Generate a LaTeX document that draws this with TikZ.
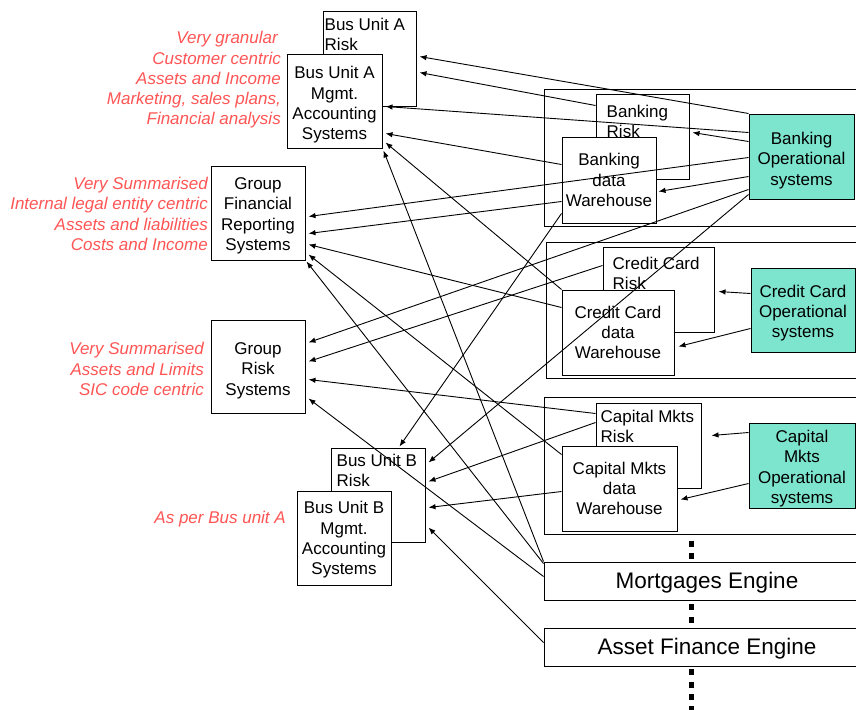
\documentclass[tikz,border=0pt]{standalone}
\usepackage{fontspec}
\setmainfont{Liberation Sans}
\usetikzlibrary{arrows.meta}
\definecolor{notered}{RGB}{255,85,85}
\definecolor{opteal}{RGB}{125,228,205}
% a taller first line pushes a centred text block down inside its box
\newcommand{\tallfirst}[1]{\rule{0pt}{#1}}
\begin{document}
\begin{tikzpicture}[x=1pt,y=-1pt,
  every node/.style={inner sep=0pt, font=\fontsize{17}{20}\selectfont},
  groupbox/.style={draw, line width=1pt},
  sysbox/.style={draw, line width=1pt, fill=white, align=center,
    font=\fontsize{17}{20.3}\selectfont},
  opbox/.style={sysbox, fill=opteal},
  risktext/.style={anchor=north west, align=left},
  enginebox/.style={sysbox, font=\fontsize{22.5}{26}\selectfont},
  note/.style={anchor=east, align=right, text=notered,
    font=\itshape\fontsize{17}{20.3}\selectfont},
  conn/.style={line width=0.9pt, -{Latex[length=7pt,width=5.5pt]}},
  dots/.style={line width=5pt, dash pattern=on 6pt off 6.3pt}]
\useasboundingbox (0,0) rectangle (856,709);
\clip (0,0) rectangle (856,709);
\fill[white] (0,0) rectangle (856,709);

% business line groups on the right
\node[groupbox, minimum width=326pt, minimum height=137pt] (bankgrp) at (707,157.5) {};
\node[groupbox, minimum width=324pt, minimum height=136pt] (ccgrp) at (708,310) {};
\node[groupbox, minimum width=326pt, minimum height=137pt] (capgrp) at (707,465.5) {};

% banking
\node[sysbox, minimum width=93pt, minimum height=85pt] (bankrisk) at (642.5,136.5) {};
\node[risktext] (bankrisk-t) at ([xshift=11pt,yshift=-11pt]bankrisk.north west) {Banking\\Risk};
\node[sysbox, minimum width=94pt, minimum height=86pt] (bankdw) at (609,180) {Banking\\data\\Warehouse};
\node[opbox, minimum width=105pt, minimum height=85pt] (bankop) at (801.5,156.5) {\tallfirst{20.3pt}Banking\\Operational\\systems};

% credit card
\node[sysbox, minimum width=111pt, minimum height=85pt] (ccrisk) at (658.5,289.5) {};
\node[risktext] (ccrisk-t) at ([xshift=10pt,yshift=-10pt]ccrisk.north west) {Credit Card\\Risk};
\node[sysbox, minimum width=112pt, minimum height=85pt] (ccdw) at (618,332.5) {Credit Card\\data\\Warehouse};
\node[opbox, minimum width=104pt, minimum height=84pt] (ccop) at (803,310) {\tallfirst{18.3pt}Credit Card\\Operational\\systems};

% capital markets
\node[sysbox, minimum width=105pt, minimum height=85pt] (caprisk) at (648.5,445.5) {};
\node[risktext] (caprisk-t) at ([xshift=5pt,yshift=-7pt]caprisk.north west) {Capital Mkts\\Risk};
\node[sysbox, minimum width=115pt, minimum height=85pt] (capdw) at (619.5,488.5) {Capital Mkts\\data\\Warehouse};
\node[opbox, minimum width=106pt, minimum height=85pt] (capop) at (802,465.5) {\tallfirst{18.3pt}Capital\\Mkts\\Operational\\systems};

% engines
\node[enginebox, minimum width=326pt, minimum height=38pt] (mort) at (707,581) {\tallfirst{19pt}Mortgages Engine};
\node[enginebox, minimum width=326pt, minimum height=38pt] (asset) at (707,647) {\tallfirst{19pt}Asset Finance Engine};

% consuming systems on the left
\node[sysbox, minimum width=93pt, minimum height=94pt] (busarisk) at (369.5,59) {};
\node[risktext] (busarisk-t) at ([xshift=2pt,yshift=-6pt]busarisk.north west) {Bus Unit A\\Risk};
\node[sysbox, minimum width=95pt, minimum height=93pt] (busamgmt) at (334.5,101.5) {\tallfirst{19.3pt}Bus Unit A\\Mgmt.\\Accounting\\Systems};
\node[sysbox, minimum width=94pt, minimum height=94pt] (gfr) at (258,213) {\tallfirst{17.3pt}Group\\Financial\\Reporting\\Systems};
\node[sysbox, minimum width=94pt, minimum height=93pt] (grisk) at (258,366.5) {\tallfirst{20.3pt}Group\\Risk\\Systems};
\node[sysbox, minimum width=94pt, minimum height=94pt] (busbrisk) at (378,495) {};
\node[risktext] (busbrisk-t) at ([xshift=6pt,yshift=-6pt]busbrisk.north west) {Bus Unit B\\Risk};
\node[sysbox, minimum width=94pt, minimum height=94pt] (busbmgmt) at (344,538) {\tallfirst{16.3pt}Bus Unit B\\Mgmt.\\Accounting\\Systems};

% descriptions
\node[note] (busanote) at (281,80) {Very granular\hspace*{3pt}\\Customer centric\\Assets and Income\\Marketing, sales plans,\\Financial analysis};
\node[note] (gfrnote) at (208,214) {Very Summarised\\Internal legal entity centric\\Assets and liabilities\\Costs and Income};
\node[note] (grisknote) at (204,369) {Very Summarised\\Assets and Limits\\SIC code centric};
\node[note] (busbnote) at (286,519) {As per Bus unit A};

% feeds
\draw[conn] (bankop.north west) -- ([xshift=3pt,yshift=-45pt]busarisk.north east);
\draw[conn] ([yshift=-12pt]bankrisk.north west) -- ([xshift=3pt,yshift=-61pt]busarisk.north east);
\draw[conn] ([yshift=-19pt]bankop.north west) -- ([xshift=3pt,yshift=-52pt]busamgmt.north east);
\draw[conn] ([yshift=-28pt]bankdw.north west) -- ([xshift=3pt,yshift=-79pt]busamgmt.north east);
\draw[conn] (ccdw.north west) -- ([xshift=3pt,yshift=-88pt]busamgmt.north east);
\draw[conn] (mort.north west) -- ([xshift=1pt,yshift=-2pt]busamgmt.south east);
\draw[conn] ([yshift=-28pt]bankop.north west) -- ([xshift=3pt,yshift=-39pt]bankrisk.north east);
\draw[conn] ([yshift=-63pt]bankop.north west) -- ([xshift=2pt,yshift=-55pt]bankdw.north east);
\draw[conn] ([yshift=-44pt]bankop.north west) -- ([xshift=3pt,yshift=-51pt]gfr.north east);
\draw[conn] ([yshift=-65pt]bankdw.north west) -- ([xshift=3pt,yshift=-68pt]gfr.north east);
\draw[conn] ([yshift=-18pt]ccdw.north west) -- ([xshift=3pt,yshift=-79pt]gfr.north east);
\draw[conn] ([yshift=-9pt]capdw.north west) -- ([xshift=3pt,yshift=-89pt]gfr.north east);
\draw[conn] ([yshift=-2pt]mort.north west) -- ([xshift=1pt,yshift=-1pt]gfr.south east);
\draw[conn] ([yshift=-76pt]bankop.north west) -- ([xshift=3pt,yshift=-23pt]grisk.north east);
\draw[conn] ([yshift=-19pt]ccrisk.north west) -- ([xshift=3pt,yshift=-42pt]grisk.north east);
\draw[conn] ([yshift=-11pt]caprisk.north west) -- ([xshift=3pt,yshift=-60pt]grisk.north east);
\draw[conn] ([yshift=-15pt]mort.north west) -- ([xshift=3pt,yshift=-79pt]grisk.north east);
\draw[conn] ([yshift=-77pt]bankdw.north west) -- ([xshift=69pt,yshift=1pt]busbrisk.north west);
\draw[conn] ([yshift=-81pt]bankop.north west) -- ([xshift=3pt,yshift=-15pt]busbrisk.north east);
\draw[conn] ([yshift=-20pt]caprisk.north west) -- ([xshift=3pt,yshift=-34pt]busbrisk.north east);
\draw[conn] ([yshift=-46pt]capdw.north west) -- ([xshift=3pt,yshift=-60pt]busbrisk.north east);
\draw[conn] ([yshift=-15pt]asset.north west) -- ([xshift=3pt,yshift=-80pt]busbrisk.north east);
\draw[conn] ([yshift=-26pt]ccop.north west) -- ([xshift=4pt,yshift=-45pt]ccrisk.north east);
\draw[conn] ([yshift=-61pt]ccop.north west) -- ([xshift=4pt,yshift=-57pt]ccdw.north east);
\draw[conn] ([yshift=-10pt]capop.north west) -- ([xshift=10pt,yshift=-33pt]caprisk.north east);
\draw[conn] ([yshift=-61pt]capop.north west) -- ([xshift=3pt,yshift=-54pt]capdw.north east);

% further business lines
\coordinate (dotend) at (691,712);
\draw[dots] ([xshift=-16pt,yshift=-6pt]capgrp.south) -- ([xshift=-16pt]mort.north);
\draw[dots] ([xshift=-16pt,yshift=-3.7pt]mort.south) -- ([xshift=-16pt]asset.north);
\draw[dots] ([xshift=-16pt,yshift=-2.7pt]asset.south) -- (dotend);
\end{tikzpicture}
\end{document}
